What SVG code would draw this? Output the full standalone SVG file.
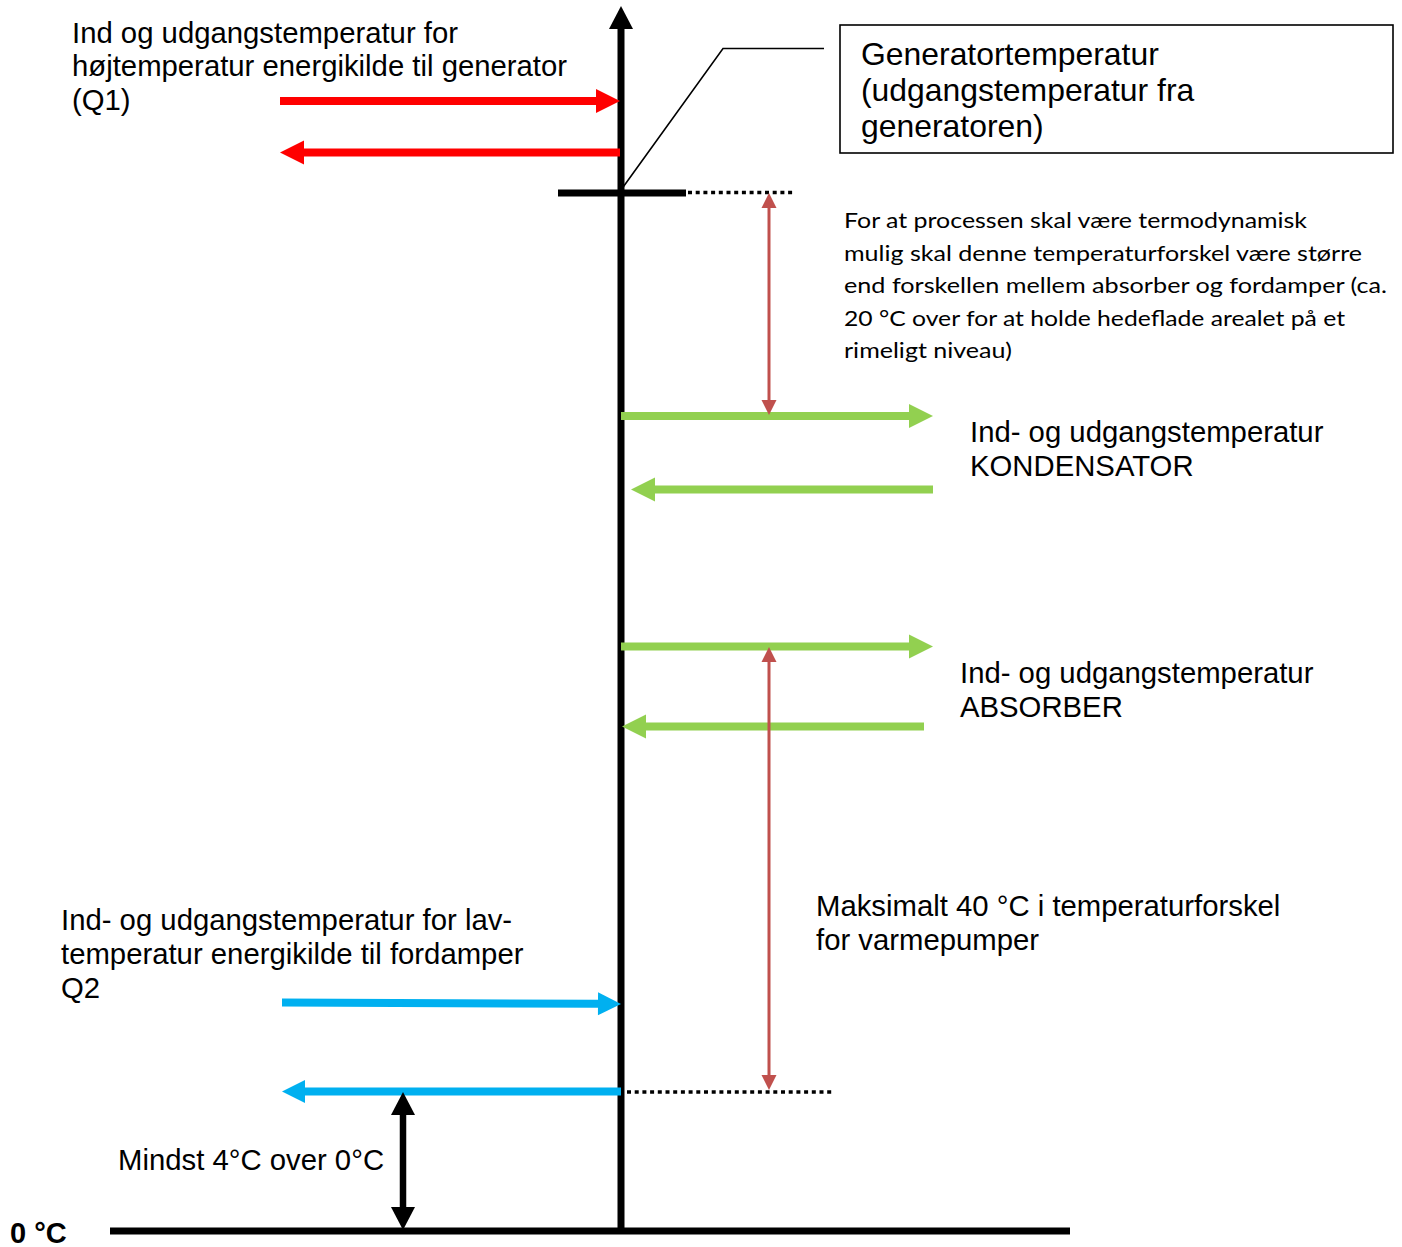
<svg xmlns="http://www.w3.org/2000/svg" width="1402" height="1247" viewBox="0 0 1402 1247">
<style>
.t{font-family:"Liberation Sans",Arial,sans-serif;font-size:29.3px;fill:#000}
.tb{font-family:"Liberation Sans",Arial,sans-serif;font-size:31.9px;fill:#000}
.ts{font-family:Lato,"Open Sans",sans-serif;font-size:22px;fill:#000}
.red{stroke:#FF0000;stroke-width:8;fill:none}
.grn{stroke:#92D050;stroke-width:8;fill:none}
.blu{stroke:#00B0F0;stroke-width:8;fill:none}
.dr{stroke:#C0504D;stroke-width:3;fill:none}
.blk{stroke:#000;stroke-width:7;fill:none}
.dot{stroke:#000;stroke-width:3.5;stroke-dasharray:4 3.7;fill:none}
</style>
<defs>
<marker id="hRed" markerUnits="userSpaceOnUse" markerWidth="26" markerHeight="26" refX="0" refY="12" orient="auto" overflow="visible"><path d="M0,0 L24,12 L0,24 Z" fill="#FF0000"/></marker>
<marker id="hGrn" markerUnits="userSpaceOnUse" markerWidth="26" markerHeight="26" refX="0" refY="12" orient="auto" overflow="visible"><path d="M0,0 L24,12 L0,24 Z" fill="#92D050"/></marker>
<marker id="hBlu" markerUnits="userSpaceOnUse" markerWidth="26" markerHeight="26" refX="0" refY="11.5" orient="auto" overflow="visible"><path d="M0,0 L23,11.5 L0,23 Z" fill="#00B0F0"/></marker>
<marker id="hBlk" markerUnits="userSpaceOnUse" markerWidth="26" markerHeight="26" refX="0" refY="12" orient="auto-start-reverse" overflow="visible"><path d="M0,0 L23,12 L0,24 Z" fill="#000"/></marker>
<marker id="hDr" markerUnits="userSpaceOnUse" markerWidth="16" markerHeight="16" refX="0" refY="7.5" orient="auto-start-reverse" overflow="visible"><path d="M0,0 L15,7.5 L0,15 Z" fill="#C0504D"/></marker>
</defs>

<g id="connectors">
<line class="blk" x1="621" y1="1231" x2="621" y2="29" marker-end="url(#hBlk)"/>
<line class="blk" x1="110" y1="1231" x2="1070" y2="1231"/>
<line class="blk" x1="558" y1="193" x2="686" y2="193"/>
<line class="dot" x1="688" y1="192.5" x2="795" y2="192.5"/>
<line class="dot" x1="627" y1="1092" x2="834" y2="1092"/>
<polyline points="621,190 723,48.5 824,48.5" fill="none" stroke="#000" stroke-width="1.6"/>
<line class="red" x1="280" y1="101" x2="596" y2="101" marker-end="url(#hRed)"/>
<line class="red" x1="620" y1="152.5" x2="304" y2="152.5" marker-end="url(#hRed)"/>
<line class="grn" x1="621" y1="416" x2="909" y2="416" marker-end="url(#hGrn)"/>
<line class="grn" x1="933" y1="489.5" x2="655" y2="489.5" marker-end="url(#hGrn)"/>
<line class="grn" x1="621" y1="646.5" x2="909" y2="646.5" marker-end="url(#hGrn)"/>
<line class="grn" x1="924" y1="726.5" x2="646" y2="726.5" marker-end="url(#hGrn)"/>
<line class="blu" x1="282" y1="1002.5" x2="598" y2="1003.8" marker-end="url(#hBlu)"/>
<line class="blu" x1="621" y1="1091.5" x2="305" y2="1091.5" marker-end="url(#hBlu)"/>
<line x1="403" y1="1115" x2="403" y2="1207" stroke="#000" stroke-width="6.5" marker-start="url(#hBlk)" marker-end="url(#hBlk)"/>
<line class="dr" x1="769" y1="208" x2="769" y2="400" marker-start="url(#hDr)" marker-end="url(#hDr)"/>
<line class="dr" x1="769" y1="662" x2="769" y2="1075" marker-start="url(#hDr)" marker-end="url(#hDr)"/>
</g>

<g id="generator-box">
<rect x="840" y="25" width="553" height="128" fill="#fff" stroke="#000" stroke-width="1.6"/>
<text class="tb" x="861" y="65">Generatortemperatur</text>
<text class="tb" x="861" y="101">(udgangstemperatur fra</text>
<text class="tb" x="861" y="137">generatoren)</text>
</g>

<g id="label-q1">
<text class="t" x="72" y="43">Ind og udgangstemperatur for</text>
<text class="t" x="72" y="76">højtemperatur energikilde til generator</text>
<text class="t" x="72" y="110">(Q1)</text>
</g>

<g id="label-note">
<text class="ts" x="844" y="228" textLength="463" lengthAdjust="spacingAndGlyphs">For at processen skal være termodynamisk</text>
<text class="ts" x="844" y="260.5" textLength="518" lengthAdjust="spacingAndGlyphs">mulig skal denne temperaturforskel være større</text>
<text class="ts" x="844" y="293" textLength="543" lengthAdjust="spacingAndGlyphs">end forskellen mellem absorber og fordamper (ca.</text>
<text class="ts" x="844" y="325.5" textLength="501" lengthAdjust="spacingAndGlyphs">20 °C over for at holde hedeflade arealet på et</text>
<text class="ts" x="844" y="358" textLength="168" lengthAdjust="spacingAndGlyphs">rimeligt niveau)</text>
</g>

<g id="label-kondensator">
<text class="t" x="970" y="442">Ind- og udgangstemperatur</text>
<text class="t" x="970" y="476">KONDENSATOR</text>
</g>

<g id="label-absorber">
<text class="t" x="960" y="683">Ind- og udgangstemperatur</text>
<text class="t" x="960" y="717">ABSORBER</text>
</g>

<g id="label-q2">
<text class="t" x="61" y="930">Ind- og udgangstemperatur for lav-</text>
<text class="t" x="61" y="964">temperatur energikilde til fordamper</text>
<text class="t" x="61" y="998">Q2</text>
</g>

<g id="label-max">
<text class="t" x="816" y="916">Maksimalt 40 °C i temperaturforskel</text>
<text class="t" x="816" y="950">for varmepumper</text>
</g>

<g id="label-min">
<text class="t" x="118" y="1170">Mindst 4°C over 0°C</text>
</g>

<g id="label-zero">
<text x="10" y="1243" font-family="Liberation Sans, Arial, sans-serif" font-size="29" font-weight="bold">0 °C</text>
</g>
</svg>
